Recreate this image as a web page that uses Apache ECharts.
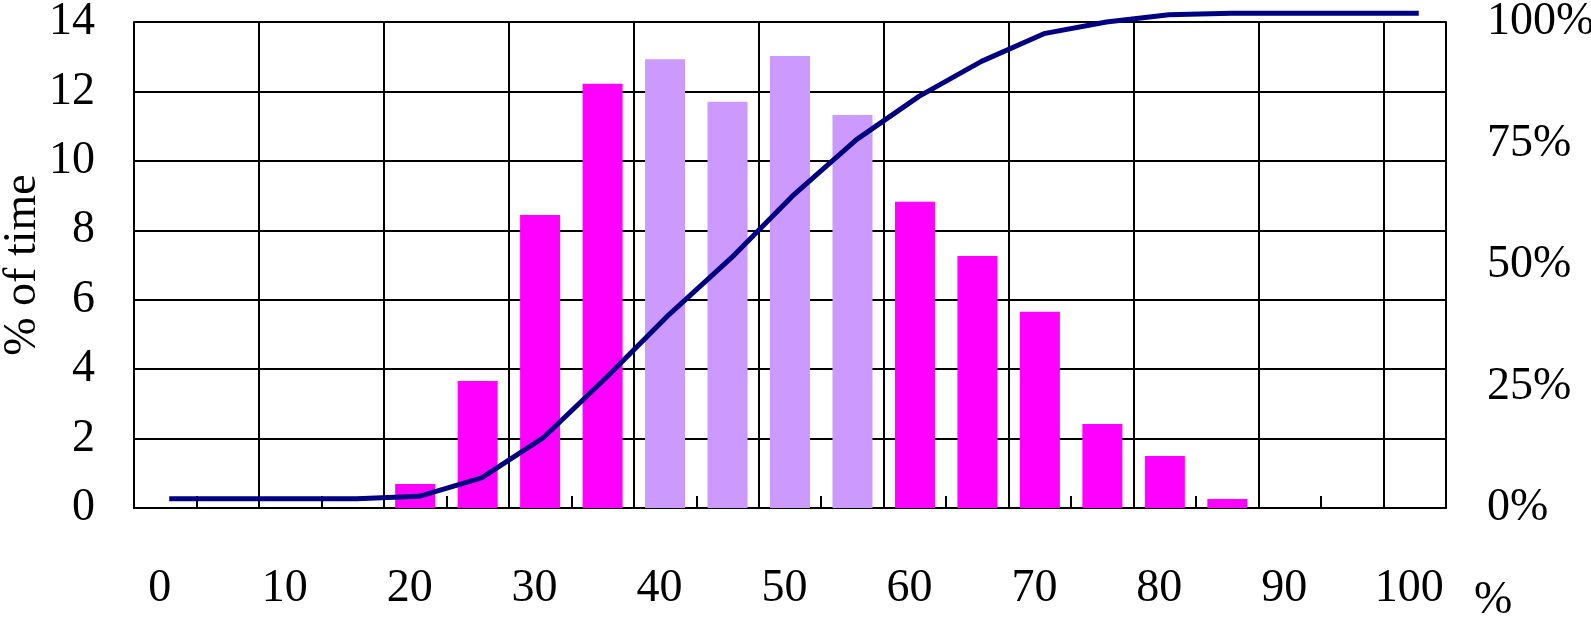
<!doctype html>
<html>
<head>
    <meta http-equiv="Content-Type" content="text/html; charset=utf-8">
    <title>% of time</title>
    <script src="https://cdn.jsdelivr.net/npm/echarts@6/dist/echarts.min.js"></script>
    <style>
        html, body { margin: 0; padding: 0; background: #fff; }
        #chart { width: 1591px; height: 621px; }
    </style>
</head>
<body>
<div id="chart"></div>
<script type="text/javascript">
    // categories (bin starts, %)
    var categories = ['0','5','10','15','20','25','30','35','40','45','50','55','60','65','70','75','80','85','90','95','100'];
    // share of time in each bin (left axis)
    var timeShare = [null,null,null,null,0.69,3.66,8.44,12.22,12.93,11.70,13.02,11.32,8.82,7.26,5.65,2.42,1.50,0.26,null,null,null];
    // cumulative curve (right axis, %)
    var cumulative = [1.9,1.9,1.9,1.9,2.4,6.2,14.6,26.9,39.8,51.5,64.5,75.8,84.7,91.9,97.6,100.0,101.5,101.8,101.8,101.8,101.8];
    // bins drawn in the lighter colour
    var lightBins = ['40','45','50','55'];

    var leftTicks = [0, 14, 2];
    var rightTicks = [0, 100, 25];

    var font = 'Liberation Serif';
    var black = '#000';

    var myChart = echarts.init(document.getElementById('chart'));
    var option = {
        animation: false,
        grid: [
            {left: 134, top: 22, right: 145, bottom: 113, outerBoundsMode: 'none', containLabel: false},
            // same box, nudged right, for the curve
            {left: 138, top: 22, right: 141, bottom: 113, outerBoundsMode: 'none', containLabel: false}
        ],
        xAxis: [
            {
                type: 'category',
                gridIndex: 0,
                data: categories,
                boundaryGap: true,
                axisLine: {show: true, lineStyle: {color: black, width: 2}},
                axisTick: {show: true, interval: 0, inside: true, length: 12, lineStyle: {color: black, width: 2}},
                axisLabel: {
                    interval: 1, margin: 58, color: black,
                    fontFamily: font, fontSize: 46, padding: [0, 11, 0, 0]
                },
                splitLine: {show: true, interval: 1, lineStyle: {color: black, width: 2}}
            },
            {
                type: 'category',
                gridIndex: 1,
                data: categories,
                boundaryGap: true,
                show: false
            }
        ],
        yAxis: [
            {
                type: 'value',
                gridIndex: 0,
                min: leftTicks[0], max: leftTicks[1], interval: leftTicks[2],
                name: '% of time',
                nameLocation: 'middle',
                nameGap: 88,
                nameMoveOverlap: false,
                nameRotate: 90,
                nameTextStyle: {color: black, fontFamily: font, fontSize: 46},
                axisLine: {show: true, lineStyle: {color: black, width: 2}},
                axisTick: {show: false},
                axisLabel: {margin: 39, color: black, fontFamily: font, fontSize: 46},
                splitLine: {show: true, lineStyle: {color: black, width: 2}}
            },
            {
                type: 'value',
                gridIndex: 0,
                position: 'right',
                min: rightTicks[0], max: rightTicks[1], interval: rightTicks[2],
                axisLine: {show: true, lineStyle: {color: black, width: 2}},
                axisTick: {show: false},
                axisLabel: {margin: 41, color: black, fontFamily: font, fontSize: 46, formatter: '{value}%'},
                splitLine: {show: false}
            },
            {
                type: 'value',
                gridIndex: 1,
                min: rightTicks[0], max: rightTicks[1],
                show: false
            }
        ],
        graphic: [
            {
                type: 'text', left: 1474, top: 578,
                style: {text: '%', fill: black, font: '46px "Liberation Serif"'}
            }
        ],
        series: [
            {
                type: 'bar',
                xAxisIndex: 0, yAxisIndex: 0,
                data: timeShare,
                barWidth: 40,
                itemStyle: {
                    color: function (p) {
                        return lightBins.indexOf(p.name) >= 0 ? '#CC99FF' : '#FF00FF';
                    }
                },
                z: 2
            },
            {
                type: 'line',
                xAxisIndex: 1, yAxisIndex: 2,
                data: cumulative,
                symbol: 'none',
                clip: false,
                lineStyle: {color: '#000080', width: 5},
                z: 5
            }
        ]
    };
    myChart.setOption(option);
</script>
</body>
</html>
